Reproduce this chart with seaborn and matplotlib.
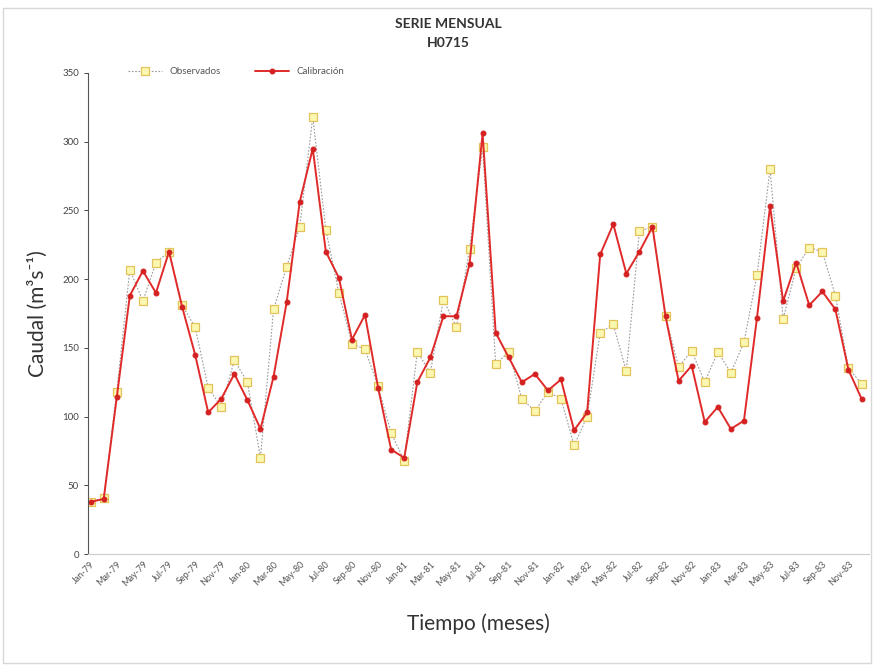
import pandas as pd
import matplotlib.pyplot as plt
import seaborn as sns
from matplotlib.patches import Rectangle

# Serie mensual Jan-79 .. Dec-83
meses = pd.date_range('1979-01-01', periods=60, freq='MS')

observados = [38, 41, 118, 207, 184, 212, 220, 181, 165, 121, 107, 141,
              125, 70, 178, 209, 238, 318, 236, 190, 153, 149, 122, 88,
              68, 147, 132, 185, 165, 222, 296, 138, 147, 113, 104, 118,
              113, 79, 100, 161, 167, 133, 235, 238, 173, 136, 148, 125,
              147, 132, 154, 203, 280, 171, 208, 223, 220, 188, 135, 124]

calibracion = [38, 40, 114, 188, 206, 190, 220, 180, 145, 103, 113, 131,
               112, 91, 129, 183, 256, 295, 220, 201, 156, 174, 121, 76,
               70, 125, 143, 173, 173, 211, 306, 161, 143, 125, 131, 119,
               127, 90, 103, 218, 240, 204, 220, 238, 173, 126, 137, 96,
               107, 91, 97, 172, 253, 184, 212, 181, 191, 178, 134, 113]

etiquetas = [d.strftime('%b-%y') for d in meses]

df = pd.DataFrame({'x': range(len(meses)), 'obs': observados, 'cal': calibracion})

sns.set_style('white')
plt.rcParams['font.family'] = ['Lato', 'DejaVu Sans']

fig = plt.figure(figsize=(8.74, 6.67), dpi=100)
ax = fig.add_axes([0.1007, 0.1694, 0.894, 0.7212])

# Observados: linea punteada gris con cuadrados amarillos
sns.lineplot(data=df, x='x', y='obs', ax=ax, color='#9a9a9a', linewidth=0.8,
             linestyle=(0, (1.5, 1.5)), marker='s', markersize=6,
             markerfacecolor='#fbf7b0', markeredgecolor='#e3c25a',
             markeredgewidth=0.9, label='Observados')

# Calibracion: linea roja con puntos
sns.lineplot(data=df, x='x', y='cal', ax=ax, color='#e02a2a', linewidth=1.4,
             marker='o', markersize=3.5, markerfacecolor='#d42020',
             markeredgecolor='#d42020', label='Calibración')

ax.set_ylim(0, 350)
ax.set_xlim(-0.2, 59.6)
ax.set_yticks(range(0, 351, 50))
ax.set_xticks(df['x'][::2])
ax.set_xticklabels(etiquetas[::2], rotation=45, ha='right', rotation_mode='anchor')
ax.tick_params(axis='x', labelsize=6.5, colors='#555555', length=0, pad=4)
ax.tick_params(axis='y', labelsize=7, colors='#444444', left=True, length=3, width=0.7)

for s in ['top', 'right']:
    ax.spines[s].set_visible(False)
ax.spines['left'].set_color('#555555')
ax.spines['bottom'].set_color('#cccccc')

ax.set_xlabel('Tiempo (meses)', fontsize=15, color='#333333', labelpad=18)
ax.set_ylabel('Caudal (m³s⁻¹)', fontsize=15, color='#333333', labelpad=10)

fig.text(0.513, 0.958, 'SERIE MENSUAL', ha='center', fontsize=10, fontweight='bold', color='#333333')
fig.text(0.513, 0.929, 'H0715', ha='center', fontsize=10, fontweight='bold', color='#333333')

leg = ax.legend(loc='upper left', bbox_to_anchor=(0.04, 1.03), ncol=2, frameon=False,
                fontsize=7, handlelength=3.5, columnspacing=3.5, labelcolor='#555555')

fig.patches.append(Rectangle((0.004, 0.006), 0.992, 0.982, transform=fig.transFigure,
                             fill=False, edgecolor='#d8d8d8', linewidth=1))

fig.savefig('out.png', dpi=100, facecolor='white')
